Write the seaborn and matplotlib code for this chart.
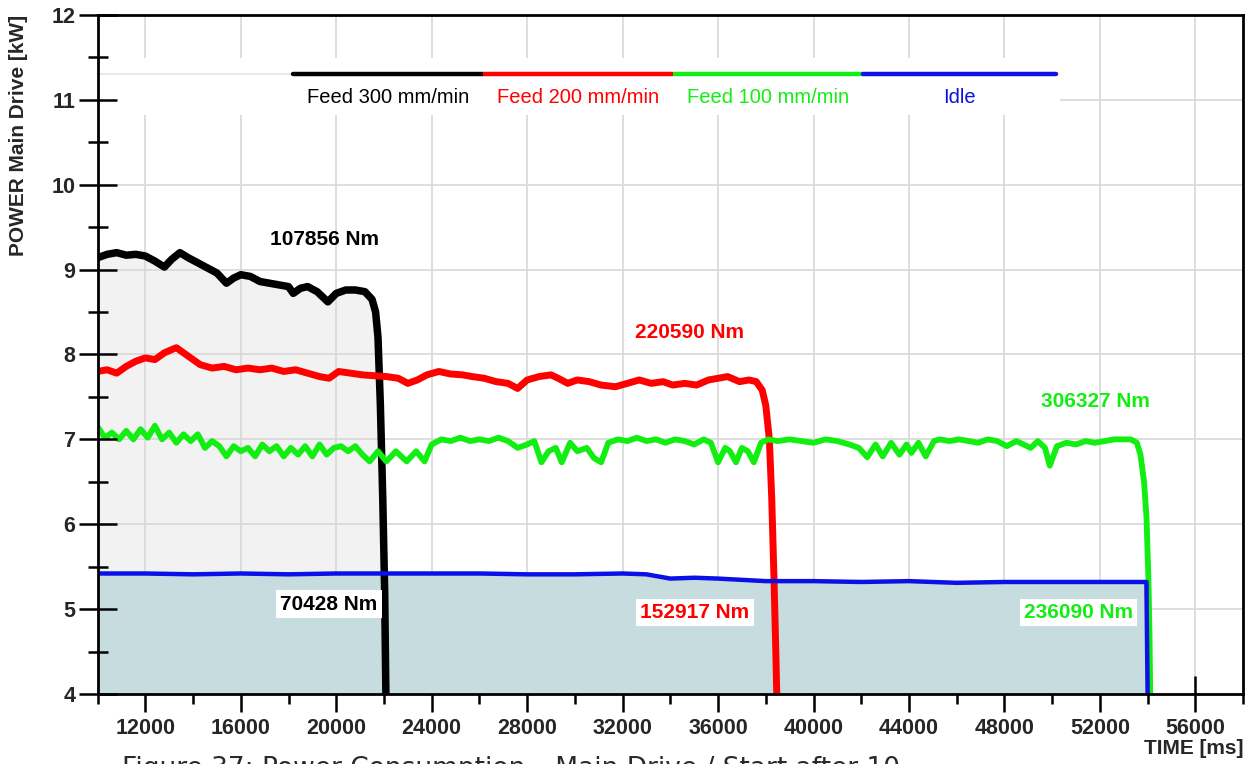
import matplotlib
matplotlib.use("Agg")
import matplotlib.pyplot as plt
import matplotlib.patches as mpatches
from matplotlib.ticker import MultipleLocator, FixedLocator
import numpy as np
import pandas as pd
import seaborn as sns

# ---- measured power traces (time in ms, power in kW) ----
t_feed300 = [10000, 10400, 10800, 11200, 11600, 12000, 12400, 12800, 13100, 13450,
             13800, 14200, 14600, 15000, 15400, 15700, 16000, 16400, 16800, 17200,
             17600, 18000, 18200, 18500, 18800, 19200, 19650, 20000, 20400, 20800,
             21200, 21500, 21650, 21750, 21850, 21950, 22030, 22080]
p_feed300 = [9.14, 9.18, 9.20, 9.17, 9.18, 9.16, 9.10, 9.03, 9.12, 9.20,
             9.14, 9.08, 9.02, 8.96, 8.84, 8.90, 8.94, 8.92, 8.86, 8.84,
             8.82, 8.80, 8.72, 8.78, 8.80, 8.74, 8.62, 8.72, 8.76, 8.76,
             8.74, 8.65, 8.50, 8.20, 7.40, 6.30, 5.20, 4.00]

t_feed200 = [10000, 10400, 10800, 11200, 11600, 12000, 12400, 12800, 13300, 13800,
             14300, 14800, 15300, 15800, 16300, 16800, 17300, 17800, 18300, 18800,
             19300, 19700, 20100, 20600, 21100, 21600, 22100, 22600, 23000, 23400,
             23800, 24300, 24800, 25300, 25700, 26200, 26700, 27200, 27600, 28000,
             28500, 29000, 29300, 29700, 30100, 30600, 31100, 31700, 32200, 32700,
             33200, 33700, 34100, 34600, 35100, 35600, 36000, 36400, 36900, 37300,
             37600, 37850, 38000, 38150, 38250, 38350, 38420, 38460]
p_feed200 = [7.80, 7.82, 7.78, 7.86, 7.92, 7.96, 7.94, 8.02, 8.08, 7.98,
             7.88, 7.84, 7.86, 7.82, 7.84, 7.82, 7.84, 7.80, 7.82, 7.78,
             7.74, 7.72, 7.80, 7.78, 7.76, 7.75, 7.74, 7.72, 7.66, 7.70,
             7.76, 7.80, 7.77, 7.76, 7.74, 7.72, 7.68, 7.66, 7.60, 7.70,
             7.74, 7.76, 7.72, 7.66, 7.70, 7.68, 7.64, 7.62, 7.66, 7.70,
             7.66, 7.68, 7.64, 7.66, 7.64, 7.70, 7.72, 7.74, 7.68, 7.70,
             7.68, 7.58, 7.40, 7.00, 6.30, 5.30, 4.50, 4.00]

t_feed100 = [10000, 10300, 10600, 10900, 11200, 11500, 11800, 12100, 12400, 12700,
             13000, 13300, 13600, 13900, 14200, 14500, 14800, 15100, 15400, 15700,
             16000, 16300, 16600, 16900, 17200, 17500, 17800, 18100, 18400, 18700,
             19000, 19300, 19600, 19900, 20200, 20500, 20800, 21100, 21400, 21750,
             22100, 22500, 22950, 23350, 23700, 24000, 24400, 24800, 25200, 25600,
             26000, 26400, 26800, 27200, 27600, 28000, 28300, 28600, 28900, 29200,
             29450, 29800, 30100, 30500, 30800, 31100, 31400, 31800, 32200, 32600,
             33000, 33400, 33800, 34200, 34600, 35000, 35400, 35700, 36000, 36300,
             36500, 36750, 37000, 37250, 37500, 37800, 38100, 38500, 39000, 39500,
             40000, 40500, 41000, 41500, 41900, 42250, 42600, 42900, 43250, 43600,
             43900, 44100, 44400, 44700, 45050, 45300, 45700, 46100, 46500, 46900,
             47300, 47700, 48100, 48500, 48800, 49100, 49400, 49700, 49900, 50200,
             50600, 51000, 51400, 51800, 52200, 52600, 53000, 53300, 53550, 53700,
             53850, 53950, 54030, 54080, 54110]
p_feed100 = [7.15, 7.02, 7.08, 7.00, 7.10, 7.00, 7.12, 7.02, 7.16, 7.00,
             7.08, 6.96, 7.06, 6.98, 7.06, 6.90, 6.98, 6.92, 6.80, 6.92,
             6.86, 6.90, 6.80, 6.94, 6.86, 6.92, 6.80, 6.90, 6.82, 6.92,
             6.80, 6.94, 6.82, 6.90, 6.92, 6.86, 6.92, 6.82, 6.74, 6.86,
             6.74, 6.86, 6.74, 6.86, 6.74, 6.94, 7.00, 6.98, 7.02, 6.98,
             7.00, 6.98, 7.02, 6.98, 6.90, 6.94, 6.98, 6.73, 6.86, 6.90,
             6.73, 6.96, 6.86, 6.90, 6.78, 6.73, 6.96, 7.00, 6.98, 7.02,
             6.98, 7.00, 6.96, 7.00, 6.98, 6.94, 7.00, 6.96, 6.73, 6.90,
             6.86, 6.73, 6.90, 6.86, 6.73, 6.96, 7.00, 6.98, 7.00, 6.98,
             6.96, 7.00, 6.98, 6.94, 6.90, 6.79, 6.94, 6.80, 6.96, 6.82,
             6.94, 6.84, 6.96, 6.80, 6.98, 7.00, 6.98, 7.00, 6.98, 6.96,
             7.00, 6.98, 6.92, 6.98, 6.94, 6.90, 6.98, 6.90, 6.69, 6.92,
             6.96, 6.94, 6.98, 6.96, 6.98, 7.00, 7.00, 7.00, 6.96, 6.82,
             6.50, 6.10, 5.40, 4.70, 4.00]

t_idle = [10000, 12000, 14000, 16000, 18000, 20000, 22000, 24000, 26000, 28000,
          30000, 32000, 33000, 34000, 35000, 36000, 38000, 40000, 42000, 44000,
          46000, 48000, 50000, 52000, 53950, 54000]
p_idle = [5.42, 5.42, 5.41, 5.42, 5.41, 5.42, 5.42, 5.42, 5.42, 5.41,
          5.41, 5.42, 5.41, 5.36, 5.37, 5.36, 5.33, 5.33, 5.32, 5.33,
          5.31, 5.32, 5.32, 5.32, 5.32, 4.00]

series_names = ["Feed 300 mm/min", "Feed 200 mm/min", "Feed 100 mm/min", "Idle"]
series_colors = ["#000000", "#ff0000", "#12ee12", "#0a10e6"]

# energy labels: (text, time, power, series index, boxed)
energy_labels = [
    ("107856 Nm", 19500, 9.35, 0, False),
    ("220590 Nm", 34800, 8.26, 1, False),
    ("306327 Nm", 51820, 7.45, 2, False),
    ("70428 Nm", 19700, 5.06, 0, True),
    ("152917 Nm", 35030, 4.96, 1, True),
    ("236090 Nm", 51100, 4.96, 2, True),
]

x_ticks = [12000, 16000, 20000, 24000, 28000, 32000, 36000, 40000, 44000,
           48000, 52000, 56000]
y_ticks = [4, 5, 6, 7, 8, 9, 10, 11, 12]

# ---- style ----
sns.set_theme(style="white")
plt.rcParams["font.family"] = ["Liberation Sans", "DejaVu Sans"]

fig = plt.figure(figsize=(12.56, 7.64), dpi=100)
ax = fig.add_axes([0.0777, 0.0916, 0.9120, 0.8888])
ax.set_xlim(10000, 58000)
ax.set_ylim(4, 12)

# light grid behind everything
for xv in x_ticks:
    ax.axvline(xv, color="#d8d8d8", lw=1.2, zorder=0.4)
for yv in y_ticks:
    ax.axhline(yv, color="#d8d8d8", lw=1.2, zorder=0.4)

# areas
ax.fill_between(t_feed300, 4, p_feed300, color="#f2f2f2", lw=0, zorder=0.2)
ax.fill_between(t_idle, 4, p_idle, color="#c7dcdf", lw=0, zorder=1.0)

frames = [
    pd.DataFrame({"t": t_feed300, "p": p_feed300}),
    pd.DataFrame({"t": t_feed200, "p": p_feed200}),
    pd.DataFrame({"t": t_feed100, "p": p_feed100}),
    pd.DataFrame({"t": t_idle, "p": p_idle}),
]
widths = [5.4, 5.0, 4.2, 3.2]
for df, col, lw in zip(frames, series_colors, widths):
    sns.lineplot(data=df, x="t", y="p", ax=ax, color=col, lw=lw,
                 estimator=None, sort=False, zorder=3,
                 solid_joinstyle="round", solid_capstyle="butt")

for txt, tx, py, idx, boxed in energy_labels:
    kw = dict(ha="center", va="center", fontsize=15, fontweight="bold",
              color=series_colors[idx], zorder=5)
    if boxed:
        kw["bbox"] = dict(facecolor="white", edgecolor="none", pad=3)
    ax.text(tx, py, txt, **kw)

# legend strip at the top
ax.add_patch(mpatches.Rectangle((0.002, 0.853), 0.838, 0.084,
                                transform=ax.transAxes, facecolor="white",
                                edgecolor="none", zorder=2))
ax.plot([0.002, 0.1705], [0.913, 0.913], transform=ax.transAxes,
        color="#e2eaec", lw=1.5, zorder=2.5)
seg_edges = [0.1705, 0.3363, 0.5021, 0.668, 0.8363]
for i, (name, col) in enumerate(zip(series_names, series_colors)):
    ax.plot([seg_edges[i], seg_edges[i + 1]], [0.913, 0.913],
            transform=ax.transAxes, color=col, lw=3.2,
            solid_capstyle="round" if i in (0, 3) else "butt", zorder=2.6)
    ax.text((seg_edges[i] + seg_edges[i + 1]) / 2, 0.878, name,
            transform=ax.transAxes, ha="center", va="center",
            fontsize=14.5, color=col, zorder=2.6)

# axes frame and ticks
for sp in ax.spines.values():
    sp.set_color("black")
    sp.set_linewidth(2.0)
    sp.set_zorder(6)

ax.xaxis.set_major_locator(FixedLocator(x_ticks))
ax.xaxis.set_minor_locator(MultipleLocator(2000))
ax.yaxis.set_major_locator(FixedLocator(y_ticks))
ax.yaxis.set_minor_locator(MultipleLocator(0.5))
ax.tick_params(axis="x", which="major", direction="inout", length=26,
               width=1.8, color="black", labelsize=15.5, pad=4, bottom=True)
ax.tick_params(axis="x", which="minor", direction="out", length=7,
               width=1.8, color="black", bottom=True)
ax.tick_params(axis="y", which="major", direction="inout", length=28,
               width=1.8, color="black", labelsize=15.5, pad=2, left=True)
ax.tick_params(axis="y", which="minor", direction="inout", length=14,
               width=1.8, color="black", left=True)
ax.xaxis.set_zorder(0.5)
ax.yaxis.set_zorder(4)
ax.set_xticklabels([str(v) for v in x_ticks], fontweight="bold")
ax.set_yticklabels([str(v) for v in y_ticks], fontweight="bold")

ax.set_xlabel("TIME [ms]", fontsize=15, fontweight="bold", loc="right")
ax.xaxis.set_label_coords(1.0, -0.066)
ax.xaxis.label.set_verticalalignment("top")
ax.set_ylabel("POWER Main Drive [kW]", fontsize=15, fontweight="bold")
ax.yaxis.set_label_coords(-0.0607, 0.822)

fig.text(0.097, 0.0105, "Figure 37: Power Consumption \u2013 Main Drive / Start after 10",
         ha="left", va="top", fontsize=19, color="#2a2a2a", family="DejaVu Sans")

fig.savefig("out.png", dpi=100)
